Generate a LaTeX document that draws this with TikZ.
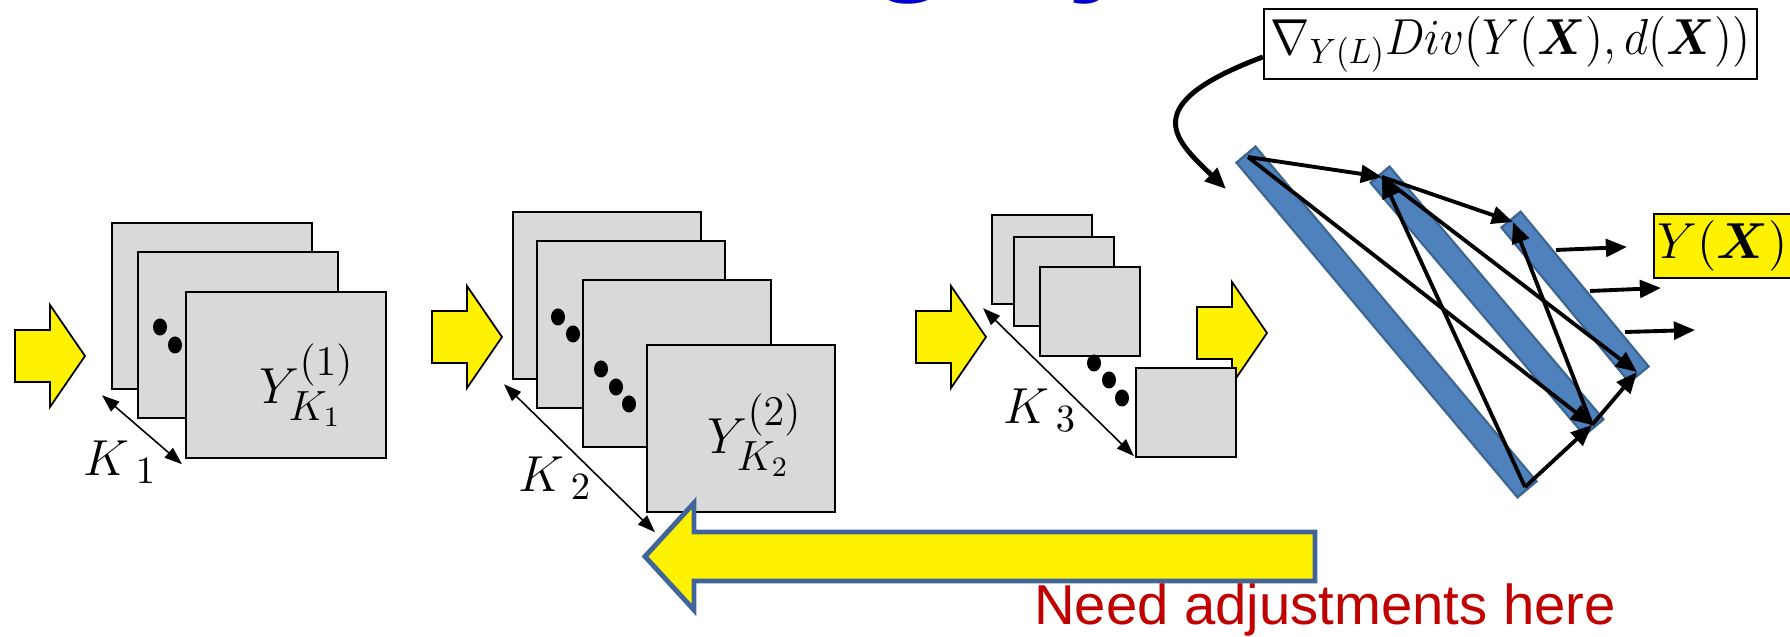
\documentclass[tikz,border=0pt]{standalone}
\usepackage{bm}
\usepackage{fontspec}
\newfontfamily\notefont{Liberation Sans}
\usetikzlibrary{arrows.meta,calc}
\DeclareMathSizes{13.3}{13.3}{10}{7.5}
\DeclareMathSizes{14}{14}{10.5}{8}
\DeclareMathSizes{15}{15}{11.5}{8.5}

\definecolor{mapgray}{HTML}{D9D9D9}
\definecolor{barfill}{HTML}{4F81BD}
\definecolor{barline}{HTML}{3C6591}
\definecolor{backline}{HTML}{41659A}
\definecolor{notered}{HTML}{C00000}
\definecolor{titleblue}{HTML}{0000CC}

\tikzset{
  fmap/.style={draw, fill=mapgray, line width=0.6pt, inner sep=0pt, anchor=north west},
  map1/.style={fmap, minimum width=2cm, minimum height=1.66cm},
  map2/.style={fmap, minimum width=1.88cm, minimum height=1.67cm},
  map3/.style={fmap, minimum width=1cm, minimum height=0.89cm},
  mathlbl/.style={font=\fontsize{15}{18}\selectfont, inner sep=0pt},
  klbl/.style={font=\fontsize{14}{17}\selectfont, inner sep=0pt},
  dimarrow/.style={{Triangle[length=5pt,width=3.6pt]}-{Triangle[length=5pt,width=3.6pt]}, line width=0.45pt},
  netarrow/.style={-{Triangle[length=6pt,width=5pt]}, line width=1.1pt},
  bendarrow/.style={-{Triangle[length=6pt,width=5pt]}, line width=1.4pt},
  barrim/.style={line width=7.7pt, barline, shorten <=-1.2pt, shorten >=-1.2pt},
  barcore/.style={line width=6.4pt, barfill, shorten <=-0.5pt, shorten >=-0.5pt},
  flowfill/.style={draw, fill=yellow, line width=0.5pt, line join=miter},
  backarrow/.style={draw=backline, fill=yellow, line width=1.4pt, line join=miter},
  gradbox/.style={draw, line width=0.6pt, inner sep=1pt, minimum width=4.93cm, minimum height=0.7cm, font=\fontsize{13.3}{16}\selectfont},
  outbox/.style={draw, fill=yellow, line width=0.6pt, inner sep=1pt, minimum width=1.29cm, minimum height=0.64cm, font=\fontsize{14}{17}\selectfont},
  note/.style={text=notered, font=\notefont\fontsize{16}{19}\selectfont},
  title/.style={text=titleblue, font=\notefont\bfseries\itshape\fontsize{38}{40}\selectfont},
  flowarrow/.pic={\draw[flowfill] (-70,-26) -- (-35,-26) -- (-35,-51) -- (0,0) -- (-35,51) -- (-35,26) -- (-70,26) -- cycle;}
}

\begin{document}
\begin{tikzpicture}[x=0.01cm, y=-0.01cm]
\useasboundingbox (0,0) rectangle (1790,637);
\node[title, anchor=base west] (ttl) at (424,-23) {Training by};

\pic at (85,356) {flowarrow};
\pic at (502,337) {flowarrow};
\pic at (986,337) {flowarrow};
\pic at (1267,333) {flowarrow};

\node[map1] (m1a) at (111,222) {};
\node[map1] (m1b) at (137,251) {};
\node[map1] (m1c) at (185,291) {};
\node[map2] (m2a) at (512,211) {};
\node[map2] (m2b) at (536,240) {};
\node[map2] (m2c) at (582,279) {};
\node[map2] (m2d) at (646,344) {};
\node[map3] (m3a) at (991,214) {};
\node[map3] (m3b) at (1013,236) {};
\node[map3] (m3c) at (1039,266) {};
\node[map3] (m3d) at (1135,367) {};

\foreach \p in {(160,327),(175,345),(558,317),(573,334),(601,369),(616,387),(629,404),(1094,363),(1109,380),(1122,398)}
  \fill \p ellipse [x radius=7, y radius=8.5];

\node[mathlbl] (y1) at (307,385) {$Y_{K_1}^{(1)}$};
\node[mathlbl] (y2) at (755,435) {$Y_{K_2}^{(2)}$};

\draw[dimarrow] ($(m1a.south west)+(-9,5)$) -- ($(m1c.south west)+(-3,5)$);
\draw[dimarrow] ($(m2a.south west)+(-8,4)$) -- ($(m2d.south west)+(9,19)$);
\draw[dimarrow] ($(m3a.south west)+(-8,3)$) -- ($(m3d.south west)+(-1,-2)$);
\node[klbl] (k1) at (120,462) {$K_{\;1}$};
\node[klbl] (k2) at (555,478) {$K_{\;2}$};
\node[klbl] (k3) at (1040,410) {$K_{\;3}$};

\draw[backarrow] (1315,532) -- (694,532) -- (694,503) -- (645,556.5) -- (694,610) -- (694,581) -- (1315,581) -- cycle;
\node[note, anchor=base] (note) at (1325,625) {Need adjustments here};

\coordinate (t1) at (1248,157); \coordinate (b1) at (1525,487);
\coordinate (t2) at (1382,177); \coordinate (b2) at (1592,425);
\coordinate (t3) at (1513,222); \coordinate (b3) at (1637,372);
\foreach \i in {1,2,3} {
  \draw[barrim] (t\i) -- (b\i);
  \draw[barcore] (t\i) -- (b\i);
}
\foreach \s/\e in {t1/t2,t1/b2,b1/t2,b1/b2,t2/t3,t2/b3,b2/t3,b2/b3}
  \draw[netarrow] (\s) -- (\e);

\coordinate (o1) at (1556,250); \coordinate (o2) at (1590,291); \coordinate (o3) at (1625,332);
\draw[netarrow] (o1) -- ++(71,-3);
\draw[netarrow] (o2) -- ++(71,-3);
\draw[netarrow] (o3) -- ++(70,-2);

\node[outbox] (yx) at (1722.5,246) {$Y(\bm{X})$};
\node[gradbox] (grad) at (1510.5,44) {\scalebox{0.93}[1]{$\nabla_{Y(L)}Div(Y(\bm{X}),d(\bm{X}))$}};
\coordinate (gin) at (1226,189);
\draw[bendarrow] (grad.183) .. controls (1135,105) and (1175,140) .. (gin);
\end{tikzpicture}
\end{document}
